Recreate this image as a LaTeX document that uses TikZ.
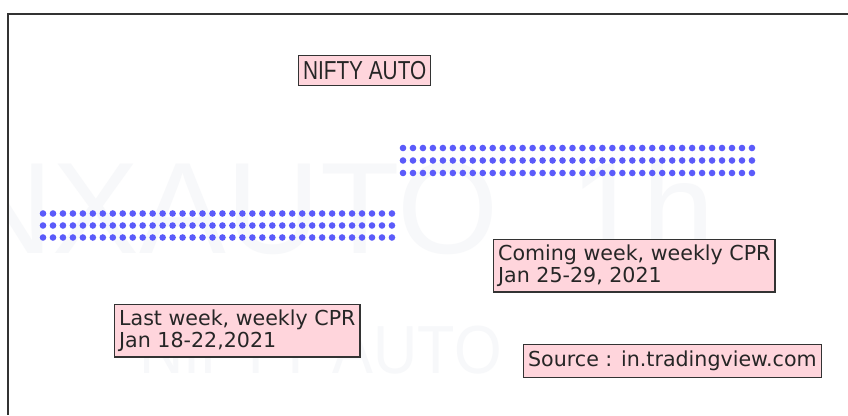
\documentclass[tikz,border=0pt]{standalone}
\usepackage{fontspec}
\setmainfont{DejaVu Sans}
\newfontfamily\arialfont{Liberation Sans}
\definecolor{boxpink}{HTML}{FFD5DC}
\definecolor{boxline}{HTML}{333333}
\definecolor{dotblue}{HTML}{5B5BFA}
\definecolor{wmark}{HTML}{F7F8FA}
\begin{document}
\begin{tikzpicture}[x=1pt,y=-1pt,
  labelbox/.style={draw=boxline,line width=1.3pt,fill=boxpink,inner xsep=4.5pt,inner ysep=5.5pt,
    align=left,font=\fontsize{20.6}{21.5}\selectfont,text=black!85},
  cprdot/.style={fill=dotblue},
  wmtext/.style={text=wmark,inner sep=0pt}]
\useasboundingbox (0,0) rectangle (848,415);
\fill[white] (0,0) rectangle (848,415);
% watermarks
\begin{scope}
\clip (9,15) rectangle (848,415);
\node[wmtext,anchor=base west,font=\arialfont\fontsize{130}{130}\selectfont] (wm1) at (-135,253) {CNXAUTO, 1h};
\node[wmtext,anchor=base east,font=\arialfont\fontsize{68}{68}\selectfont,xscale=0.9] (wm2) at (502,373) {NIFTY AUTO};
\end{scope}
% frame
\coordinate (fTR) at (848,14);
\coordinate (fTL) at (8,14);
\coordinate (fBL) at (8,415);
\draw[boxline,line width=1.6pt] (fTR) -- (fTL) -- (fBL);
% CPR dots, last week
\foreach \r in {213.5,225.5,237.5}{
  \foreach \i in {0,...,35}{
    \fill[cprdot] (43+9.97*\i,\r) circle (3.3);
  }
}
% CPR dots, coming week
\foreach \r in {148,160.5,173}{
  \foreach \i in {0,...,35}{
    \fill[cprdot] (403+9.97*\i,\r) circle (3.3);
  }
}
% labels
\node[labelbox,anchor=north west,minimum width=132pt,minimum height=30pt,inner xsep=2pt,inner ysep=2pt,
  font=\arialfont\fontsize{26}{27}\selectfont] (title) at (298,55) {\scalebox{0.8}[1]{NIFTY AUTO}};
\node[labelbox,anchor=north west] (last) at (114,304) {Last week, weekly CPR\\Jan 18-22,2021};
\node[labelbox,anchor=north west] (coming) at (493,239) {Coming week, weekly CPR\\Jan 25-29, 2021};
\node[labelbox,anchor=north west,inner ysep=6.5pt] (source) at (523,344) {Source : in.tradingview.com};
\end{tikzpicture}
\end{document}
